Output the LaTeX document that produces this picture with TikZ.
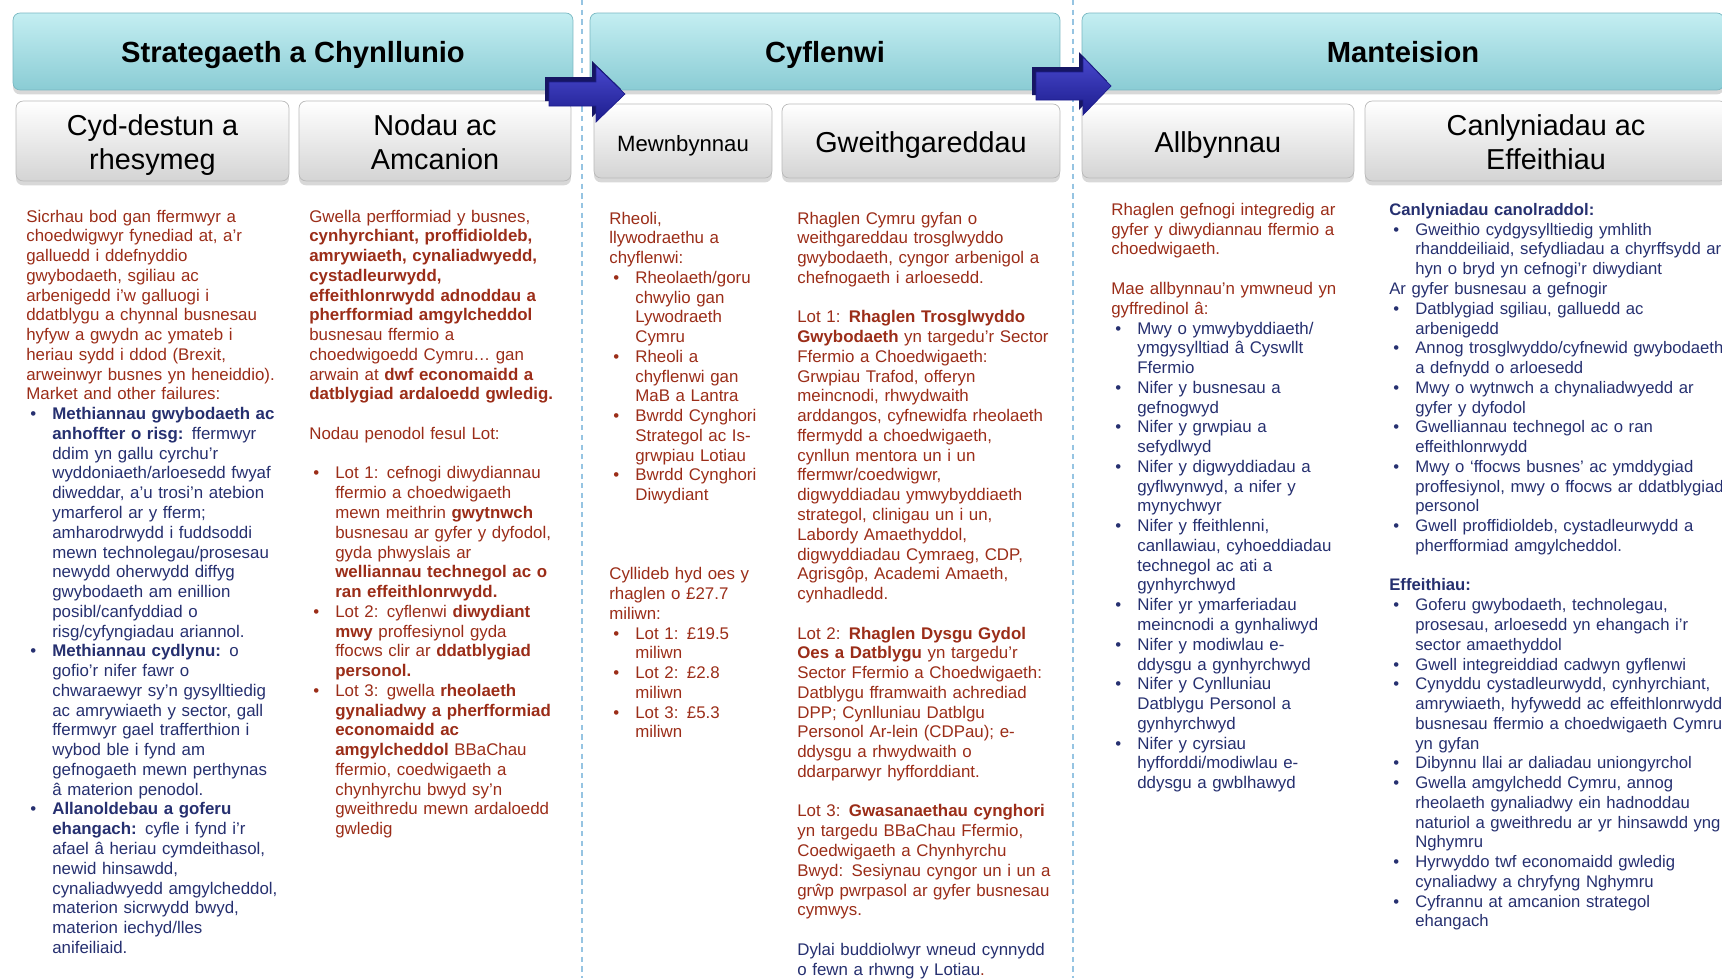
\documentclass[tikz,border=0pt]{standalone}
\usepackage{fontspec}
\setmainfont{Liberation Sans}
\usetikzlibrary{shadows}

\definecolor{txtred}{RGB}{155,45,24}
\definecolor{txtblue}{RGB}{38,48,112}
\definecolor{bartop}{RGB}{196,238,242}
\definecolor{barbot}{RGB}{138,204,212}
\definecolor{barline}{RGB}{120,184,194}
\definecolor{subbot}{RGB}{212,212,212}
\definecolor{subline}{RGB}{185,185,185}
\definecolor{dashblue}{RGB}{150,196,226}
\definecolor{arrowtop}{RGB}{72,72,205}
\definecolor{arrowbot}{RGB}{28,28,140}
\definecolor{arrowback}{RGB}{22,22,100}

\newlength{\bind}\setlength{\bind}{14.8pt}
\newlength{\jwa}\setlength{\jwa}{138.9pt}
\newlength{\jwb}\setlength{\jwb}{109.3pt}
\newcommand{\bodyfont}{\fontsize{9.6pt}{11.25pt}\selectfont}
\newcommand{\itm}{\par\hangindent=\bind\hangafter=1\noindent\makebox[\bind][l]{\hspace{2.3pt}\textbullet}}
\newcommand{\gap}{\par\vspace{\baselineskip}}
\newcommand{\ja}[1]{\makebox[\jwa][s]{#1}}
\newcommand{\jl}[1]{\makebox[\jwb][s]{#1}}
\newcommand{\bartxt}[1]{\raisebox{-1.9pt}[12pt][3.5pt]{#1}}
\newcommand{\subtxt}[1]{\raisebox{-2.8pt}[\height][\depth]{\begin{tabular}{@{}c@{}}#1\end{tabular}}}

\begin{document}
\begin{tikzpicture}[x=0.02cm, y=-0.02cm,
    bar/.style={rectangle, rounded corners=4pt, draw=barline, top color=bartop, bottom color=barbot,
        minimum height=1.54cm, font=\bfseries\fontsize{16.6pt}{19pt}\selectfont,
        drop shadow={shadow xshift=0pt, shadow yshift=-2.5pt, opacity=0.3}},
    sub/.style={rectangle, rounded corners=4pt, draw=subline, top color=white, bottom color=subbot,
        minimum height=1.48cm, align=center, font=\fontsize{16.4pt}{19.4pt}\selectfont,
        drop shadow={shadow xshift=0pt, shadow yshift=-2.5pt, opacity=0.3}},
    col/.style={anchor=base west, inner sep=0pt, text width=6cm, align=left, font=\bodyfont, text=txtred},
    dashline/.style={draw=dashblue, line width=0.7pt, dash pattern=on 3pt off 2.5pt},
    blockarrow/.style={top color=arrowtop, bottom color=arrowbot, draw=arrowbot, line width=0.4pt}]
    \path[use as bounding box, fill=white] (0,0) rectangle (1722,978);

    % phase separators
    \draw[dashline] (582,0) -- (582,978);
    \draw[dashline] (1073,0) -- (1073,978);

    % header bars
    \node[bar, minimum width=11.2cm] (strat) at (293,51.5) {\bartxt{Strategaeth a Chynllunio}};
    \node[bar, minimum width=9.4cm] (cyfl) at (825,51.5) {\bartxt{Cyflenwi}};
    \node[bar, minimum width=12.84cm] (mant) at (1403,51.5) {\bartxt{Manteision}};

    \node[sub, minimum width=5.46cm] (cyd) at (152.5,141) {\subtxt{Cyd-destun a\\rhesymeg}};
    \node[sub, minimum width=5.44cm] (nodau) at (435,141) {\subtxt{Nodau ac\\Amcanion}};
    \node[sub, minimum width=3.56cm, font=\fontsize{12.6pt}{15pt}\selectfont] (mewn) at (683,141) {\subtxt{Mewnbynnau}};
    \node[sub, minimum width=5.56cm] (gweith) at (921,141) {\subtxt{Gweithgareddau}};
    \node[sub, minimum width=5.44cm] (allb) at (1218,141) {\subtxt{Allbynnau}};
    \node[sub, minimum width=7.24cm] (canl) at (1546,141) {\subtxt{Canlyniadau ac\\Effeithiau}};

    % block arrows
    \fill[arrowback] (545,77) -- (592,77) -- (592,61) -- (621,89) -- (592,117) -- (592,101) -- (545,101) -- cycle;
    \draw[blockarrow] (549,82) -- (596,82) -- (596,66) -- (625,94) -- (596,122) -- (596,106) -- (549,106) -- cycle;
    \fill[arrowback] (1032,67) -- (1079,67) -- (1079,52) -- (1107,81) -- (1079,110) -- (1079,95) -- (1032,95) -- cycle;
    \draw[blockarrow] (1036,72) -- (1083,72) -- (1083,57) -- (1111,86) -- (1083,115) -- (1083,100) -- (1036,100) -- cycle;

    % column texts
    \node[col] (cydtext) at (26,222) {Sicrhau bod gan ffermwyr a\newline
        choedwigwyr fynediad at, a'r\newline
        galluedd i ddefnyddio\newline
        gwybodaeth, sgiliau ac\newline
        arbenigedd i'w galluogi i\newline
        ddatblygu a chynnal busnesau\newline
        hyfyw a gwydn ac ymateb i\newline
        heriau sydd i ddod (Brexit,\newline
        arweinwyr busnes yn heneiddio).\newline
        Market and other failures:
        \par\color{txtblue}
        \itm\textbf{Methiannau gwybodaeth ac}\newline
        \textbf{anhoffter o risg:} ffermwyr\newline
        ddim yn gallu cyrchu'r\newline
        wyddoniaeth/arloesedd fwyaf\newline
        diweddar, a'u trosi'n atebion\newline
        ymarferol ar y fferm;\newline
        amharodrwydd i fuddsoddi\newline
        mewn technolegau/prosesau\newline
        newydd oherwydd diffyg\newline
        gwybodaeth am enillion\newline
        posibl/canfyddiad o\newline
        risg/cyfyngiadau ariannol.
        \itm\textbf{Methiannau cydlynu:} o\newline
        gofio'r nifer fawr o\newline
        chwaraewyr sy'n gysylltiedig\newline
        ac amrywiaeth y sector, gall\newline
        ffermwyr gael trafferthion i\newline
        wybod ble i fynd am\newline
        gefnogaeth mewn perthynas\newline
        â materion penodol.
        \itm\textbf{Allanoldebau a goferu}\newline
        \textbf{ehangach:} cyfle i fynd i'r\newline
        afael â heriau cymdeithasol,\newline
        newid hinsawdd,\newline
        cynaliadwyedd amgylcheddol,\newline
        materion sicrwydd bwyd,\newline
        materion iechyd/lles\newline
        anifeiliaid.\par};

    \node[col] (nodautext) at (309,222) {Gwella perfformiad y busnes,\newline
        \textbf{cynhyrchiant, proffidioldeb,}\newline
        \textbf{amrywiaeth, cynaliadwyedd,}\newline
        \textbf{cystadleurwydd,}\newline
        \textbf{effeithlonrwydd adnoddau a}\newline
        \textbf{pherfformiad amgylcheddol}\newline
        busnesau ffermio a\newline
        choedwigoedd Cymru… gan\newline
        arwain at \textbf{dwf economaidd a}\newline
        \textbf{datblygiad ardaloedd gwledig.}
        \gap
        Nodau penodol fesul Lot:
        \gap
        \itm Lot 1: cefnogi diwydiannau\newline
        ffermio a choedwigaeth\newline
        mewn meithrin \textbf{gwytnwch}\newline
        busnesau ar gyfer y dyfodol,\newline
        gyda phwyslais ar\newline
        \textbf{welliannau technegol ac o}\newline
        \textbf{ran effeithlonrwydd.}
        \itm Lot 2: cyflenwi \textbf{diwydiant}\newline
        \textbf{mwy} proffesiynol gyda\newline
        ffocws clir ar \textbf{ddatblygiad}\newline
        \textbf{personol.}
        \itm Lot 3: gwella \textbf{rheolaeth}\newline
        \textbf{gynaliadwy a pherfformiad}\newline
        \textbf{economaidd ac}\newline
        \textbf{amgylcheddol} BBaChau\newline
        ffermio, coedwigaeth a\newline
        chynhyrchu bwyd sy'n\newline
        gweithredu mewn ardaloedd\newline
        gwledig\par};

    \node[col] (mewntext) at (609,224) {Rheoli,\newline
        llywodraethu a\newline
        chyflenwi:
        \itm Rheolaeth/goru\newline
        chwylio gan\newline
        Lywodraeth\newline
        Cymru
        \itm Rheoli a\newline
        chyflenwi gan\newline
        MaB a Lantra
        \itm Bwrdd Cynghori\newline
        Strategol ac Is-\newline
        grwpiau Lotiau
        \itm Bwrdd Cynghori\newline
        Diwydiant
        \gap\gap\gap
        Cyllideb hyd oes y\newline
        rhaglen o £27.7\newline
        miliwn:
        \itm Lot 1: £19.5\newline
        miliwn
        \itm Lot 2: £2.8\newline
        miliwn
        \itm Lot 3: £5.3\newline
        miliwn\par};

    \node[col] (gweithtext) at (797,224) {\ja{Rhaglen Cymru gyfan o}\newline
        \ja{weithgareddau trosglwyddo}\newline
        \ja{gwybodaeth, cyngor arbenigol a}\newline
        chefnogaeth i arloesedd.
        \gap
        Lot 1: \textbf{Rhaglen Trosglwyddo}\newline
        \textbf{Gwybodaeth} yn targedu'r Sector\newline
        Ffermio a Choedwigaeth:\newline
        Grwpiau Trafod, offeryn\newline
        meincnodi, rhwydwaith\newline
        arddangos, cyfnewidfa rheolaeth\newline
        ffermydd a choedwigaeth,\newline
        cynllun mentora un i un\newline
        ffermwr/coedwigwr,\newline
        digwyddiadau ymwybyddiaeth\newline
        strategol, clinigau un i un,\newline
        Labordy Amaethyddol,\newline
        digwyddiadau Cymraeg, CDP,\newline
        Agrisgôp, Academi Amaeth,\newline
        cynhadledd.
        \gap
        Lot 2: \textbf{Rhaglen Dysgu Gydol}\newline
        \textbf{Oes a Datblygu} yn targedu'r\newline
        Sector Ffermio a Choedwigaeth:\newline
        Datblygu fframwaith achrediad\newline
        DPP; Cynlluniau Datblgu\newline
        Personol Ar-lein (CDPau); e-\newline
        ddysgu a rhwydwaith o\newline
        ddarparwyr hyfforddiant.
        \gap
        Lot 3: \textbf{Gwasanaethau cynghori}\newline
        yn targedu BBaChau Ffermio,\newline
        Coedwigaeth a Chynhyrchu\newline
        Bwyd: Sesiynau cyngor un i un a\newline
        grŵp pwrpasol ar gyfer busnesau\newline
        cymwys.
        \gap
        {\color{txtblue}Dylai buddiolwyr wneud cynnydd\newline
        o fewn a rhwng y Lotiau}.\par};

    \node[col] (allbtext) at (1111,215.4) {Rhaglen gefnogi integredig ar\newline
        gyfer y diwydiannau ffermio a\newline
        choedwigaeth.
        \gap
        Mae allbynnau'n ymwneud yn\newline
        gyffredinol â:
        \par\color{txtblue}
        \itm\jl{Mwy o ymwybyddiaeth/}\newline
        \jl{ymgysylltiad â Cyswllt}\newline
        Ffermio
        \itm\jl{Nifer y busnesau a}\newline
        gefnogwyd
        \itm\jl{Nifer y grwpiau a}\newline
        sefydlwyd
        \itm\jl{Nifer y digwyddiadau a}\newline
        \jl{gyflwynwyd, a nifer y}\newline
        mynychwyr
        \itm\jl{Nifer y ffeithlenni,}\newline
        \jl{canllawiau, cyhoeddiadau}\newline
        \jl{technegol ac ati a}\newline
        gynhyrchwyd
        \itm\jl{Nifer yr ymarferiadau}\newline
        meincnodi a gynhaliwyd
        \itm\jl{Nifer y modiwlau e-}\newline
        ddysgu a gynhyrchwyd
        \itm\jl{Nifer y Cynlluniau}\newline
        \jl{Datblygu Personol a}\newline
        gynhyrchwyd
        \itm\jl{Nifer y cyrsiau}\newline
        \jl{hyfforddi/modiwlau e-}\newline
        ddysgu a gwblhawyd\par};

    \node[col, text width=7cm, text=txtblue, font=\fontsize{9.5pt}{11.25pt}\selectfont] (canltext) at (1389,215.4) {\textbf{Canlyniadau canolraddol:}
        \itm Gweithio cydgysylltiedig ymhlith\newline
        rhanddeiliaid, sefydliadau a chyrffsydd ar\newline
        hyn o bryd yn cefnogi'r diwydiant
        \par Ar gyfer busnesau a gefnogir
        \itm Datblygiad sgiliau, galluedd ac\newline
        arbenigedd
        \itm Annog trosglwyddo/cyfnewid gwybodaeth\newline
        a defnydd o arloesedd
        \itm Mwy o wytnwch a chynaliadwyedd ar\newline
        gyfer y dyfodol
        \itm Gwelliannau technegol ac o ran\newline
        effeithlonrwydd
        \itm Mwy o `ffocws busnes' ac ymddygiad\newline
        proffesiynol, mwy o ffocws ar ddatblygiad\newline
        personol
        \itm Gwell proffidioldeb, cystadleurwydd a\newline
        pherfformiad amgylcheddol.
        \gap
        \textbf{Effeithiau:}
        \itm Goferu gwybodaeth, technolegau,\newline
        prosesau, arloesedd yn ehangach i'r\newline
        sector amaethyddol
        \itm Gwell integreiddiad cadwyn gyflenwi
        \itm Cynyddu cystadleurwydd, cynhyrchiant,\newline
        amrywiaeth, hyfywedd ac effeithlonrwydd\newline
        busnesau ffermio a choedwigaeth Cymru\newline
        yn gyfan
        \itm Dibynnu llai ar daliadau uniongyrchol
        \itm Gwella amgylchedd Cymru, annog\newline
        rheolaeth gynaliadwy ein hadnoddau\newline
        naturiol a gweithredu ar yr hinsawdd yng\newline
        Nghymru
        \itm Hyrwyddo twf economaidd gwledig\newline
        cynaliadwy a chryfyng Nghymru
        \itm Cyfrannu at amcanion strategol\newline
        ehangach\par};
\end{tikzpicture}
\end{document}
